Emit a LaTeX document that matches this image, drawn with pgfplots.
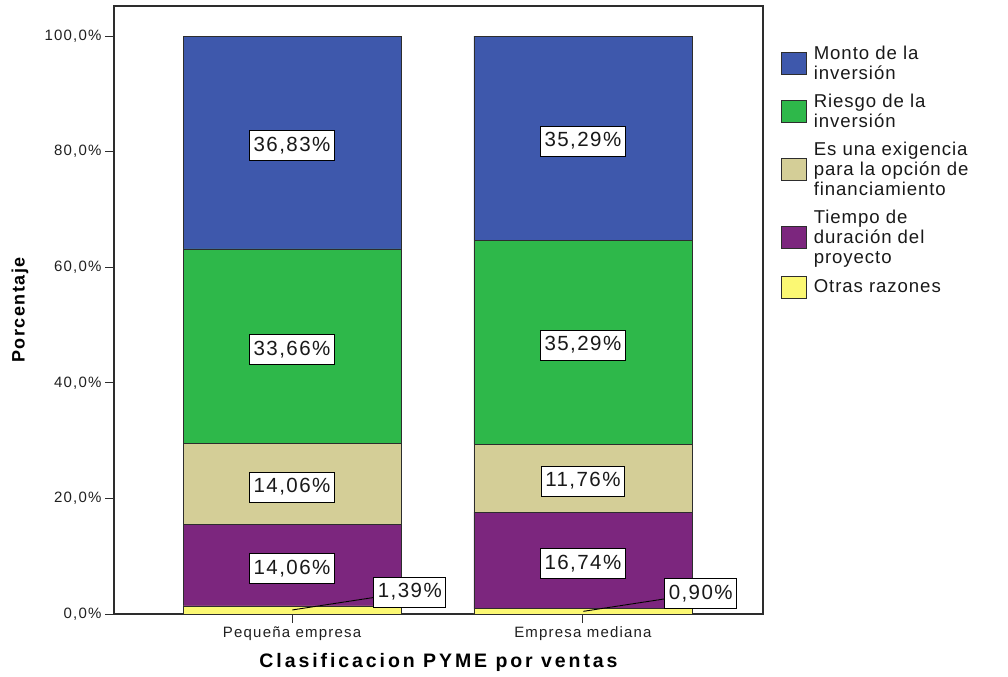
\documentclass[border=0pt]{standalone}
\usepackage{fontspec}
\setmainfont{Liberation Sans}
\newfontfamily\tickfont[LetterSpace=8]{Liberation Sans}
\newfontfamily\valfont[LetterSpace=7]{Liberation Sans}
\newfontfamily\legfont[LetterSpace=5]{Liberation Sans}
\newfontfamily\titlefont[LetterSpace=15]{Liberation Sans}
\newfontfamily\ylabfont[LetterSpace=8]{Liberation Sans}
\usepackage{pgfplots}
\pgfplotsset{compat=1.18}
\usepackage{pgfplotstable}

\definecolor{cMonto}{RGB}{62,88,172}
\definecolor{cRiesgo}{RGB}{46,184,74}
\definecolor{cExig}{RGB}{212,206,151}
\definecolor{cTiempo}{RGB}{124,38,126}
\definecolor{cOtras}{RGB}{251,248,115}
\definecolor{frame}{RGB}{45,45,45}

% share of each reason (%) by company size
\pgfplotstableread{
x monto riesgo exig tiempo otras
0 36.83 33.66 14.06 14.06 1.39
1 35.29 35.29 11.76 16.74 0.90
}\pyme

\pgfplotsset{
  % label in the middle of a stacked segment
  seglabel/.style={
    point meta=\thisrow{#1},
    visualization depends on={\thisrow{#1} \as \segval},
    nodes near coords={\pgfmathprintnumber[fixed,fixed zerofill,precision=2,use comma]{\segval}\%},
    nodes near coords align={center},
    every node near coord/.append style={valbox, yshift=-3bp},
  },
  % thin segment: label set aside with a leader line
  pinlabel/.style={
    point meta=\thisrow{#1},
    visualization depends on={\thisrow{#1} \as \segval},
    nodes near coords={},
    nodes near coords align={center},
    every node near coord/.append style={inner sep=0pt, minimum size=0pt,
      pin={[valbox, pin distance=81bp, yshift=18bp]0:{\pgfmathprintnumber[fixed,fixed zerofill,precision=2,use comma]{\segval}\%}}},
  },
}

\begin{document}
\begin{tikzpicture}[
  valbox/.style={draw=black, line width=0.9bp, fill=white,
    font={\valfont\fontsize{20.5bp}{24bp}\selectfont}, text=black!90,
    inner xsep=4bp, inner ysep=0pt, minimum height=30bp},
  every pin edge/.style={draw=black, line width=0.9bp},
]
\begin{axis}[
  name=main,
  set layers, mark layer=axis foreground,
  scale only axis, width=649bp, height=608bp,
  ybar stacked, bar width=218bp,
  xmin=-0.612, xmax=1.619, ymin=0, ymax=105.2,
  xtick={0,1}, xticklabels={Pequeña empresa, Empresa mediana},
  ytick={0,20,...,100},
  yticklabel={\pgfmathprintnumber[fixed,fixed zerofill,precision=1,use comma]{\tick}\%},
  /pgf/number format/assume math mode=true,
  tick align=outside, xtick pos=bottom, ytick pos=left,
  major tick length=9bp,
  tick style={draw=frame, line width=1bp},
  axis line style={draw=frame, line width=1.2bp},
  ticklabel style={font={\tickfont\fontsize{15bp}{18bp}\selectfont}, text=black!88},
  xlabel={Clasificacion PYME por ventas},
  ylabel={Porcentaje},
  xlabel style={font={\titlefont\bfseries\fontsize{19.5bp}{22bp}\selectfont},
    at={(axis description cs:0.5,0)}, anchor=base, yshift=-53bp},
  ylabel style={font={\ylabfont\bfseries\fontsize{18bp}{21bp}\selectfont},
    at={(axis description cs:-0.1448,0.5)}, anchor=center},
  reverse legend,
  legend image code/.code={\draw[#1] (0bp,-11bp) rectangle (25bp,11bp);},
  legend style={at={(axis description cs:1,1)}, anchor=north west,
    xshift=18bp, yshift=-38bp, draw=none, fill=none,
    inner sep=0pt, outer sep=0pt, row sep=9bp, column sep=5bp,
    font={\legfont\fontsize{18.6bp}{20bp}\selectfont}, text=black!90,
    cells={anchor=west, align=left, inner xsep=4bp, inner ysep=0pt}},
  every axis plot/.append style={draw=frame, line width=0.8bp},
]
\addplot[fill=cOtras, pinlabel=otras] table[x=x, y=otras]{\pyme};
\addlegendentry{Otras razones}
\addplot[fill=cTiempo, seglabel=tiempo] table[x=x, y=tiempo]{\pyme};
\addlegendentry{Tiempo de\\duración del\\proyecto}
\addplot[fill=cExig, seglabel=exig] table[x=x, y=exig]{\pyme};
\addlegendentry{Es una exigencia\\para la opción de\\financiamiento}
\addplot[fill=cRiesgo, seglabel=riesgo] table[x=x, y=riesgo]{\pyme};
\addlegendentry{Riesgo de la\\inversión}
\addplot[fill=cMonto, seglabel=monto] table[x=x, y=monto]{\pyme};
\addlegendentry{Monto de la\\inversión}
\end{axis}
\path ([xshift=-114bp,yshift=-63bp]main.south west) rectangle ([xshift=245bp,yshift=6bp]main.north east);
\end{tikzpicture}
\end{document}
